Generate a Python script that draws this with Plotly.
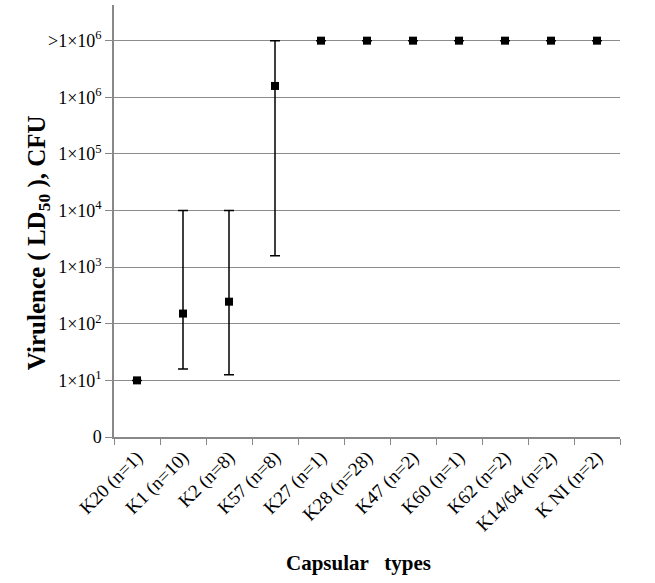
import plotly.graph_objects as go

categories = ["K20 (n=1)", "K1 (n=10)", "K2 (n=8)", "K57 (n=8)", "K27 (n=1)", "K28 (n=28)",
              "K47 (n=2)", "K60 (n=1)", "K62 (n=2)", "K14/64 (n=2)", "K NI (n=2)"]
# LD50 as log10(CFU); 7 stands for ">1x10^6"
log_ld50 = [1.0, 2.18, 2.39, 6.20, 7, 7, 7, 7, 7, 7, 7]
log_upper = [None, 4.0, 4.0, 7.0, None, None, None, None, None, None, None]
log_lower = [None, 1.20, 1.10, 3.20, None, None, None, None, None, None, None]

tick_vals = [0, 1, 2, 3, 4, 5, 6, 7]
tick_text = ["0", "1×10<sup>1</sup>", "1×10<sup>2</sup>", "1×10<sup>3</sup>", "1×10<sup>4</sup>",
             "1×10<sup>5</sup>", "1×10<sup>6</sup>", ">1×10<sup>6</sup>"]

err_plus = [(u - v) if u is not None else 0 for u, v in zip(log_upper, log_ld50)]
err_minus = [(v - l) if l is not None else 0 for l, v in zip(log_lower, log_ld50)]

fig = go.Figure()
fig.add_trace(go.Scatter(
    x=categories, y=log_ld50, mode="markers",
    marker=dict(symbol="square", size=8, color="black"),
    error_y=dict(type="data", symmetric=False, array=err_plus, arrayminus=err_minus,
                 color="black", thickness=1.5, width=5, visible=True),
    showlegend=False,
))

fig.update_layout(
    width=655, height=583,
    margin=dict(l=114, r=35, t=5, b=146),
    plot_bgcolor="white", paper_bgcolor="white",
    font=dict(family="Liberation Serif", size=18, color="black"),
    xaxis=dict(
        type="category", tickangle=-45, tickson="boundaries",
        ticks="outside", ticklen=6, tickcolor="#888888",
        showline=True, linecolor="#888888", linewidth=1.5,
        showgrid=False, automargin=False,
        tickfont=dict(family="Liberation Serif", size=19),
        range=[-0.5, 10.5],
    ),
    yaxis=dict(
        range=[0, 7.63], tickvals=tick_vals, ticktext=tick_text,
        ticks="outside", ticklen=7, tickcolor="#888888",
        showline=True, linecolor="#888888", linewidth=1.5,
        showgrid=True, gridcolor="#8c8c8c", gridwidth=1.2,
        zeroline=False, automargin=False,
        tickfont=dict(family="Liberation Serif", size=18),
    ),
    annotations=[
        dict(text="<b>Capsular   types</b>", xref="paper", yref="paper",
             x=0.483, y=-0.292, showarrow=False, xanchor="center", yanchor="middle",
             font=dict(family="Liberation Serif", size=21)),
        dict(text="<b>Virulence ( LD<sub>50</sub> ), CFU</b>", xref="paper", yref="paper",
             x=-0.15, y=0.449, showarrow=False, textangle=-90,
             xanchor="center", yanchor="middle",
             font=dict(family="Liberation Serif", size=25)),
    ],
)

fig.write_html("out.html", config={"displayModeBar": False},
               post_script="document.body.style.margin='0';document.body.style.overflow='hidden';")
